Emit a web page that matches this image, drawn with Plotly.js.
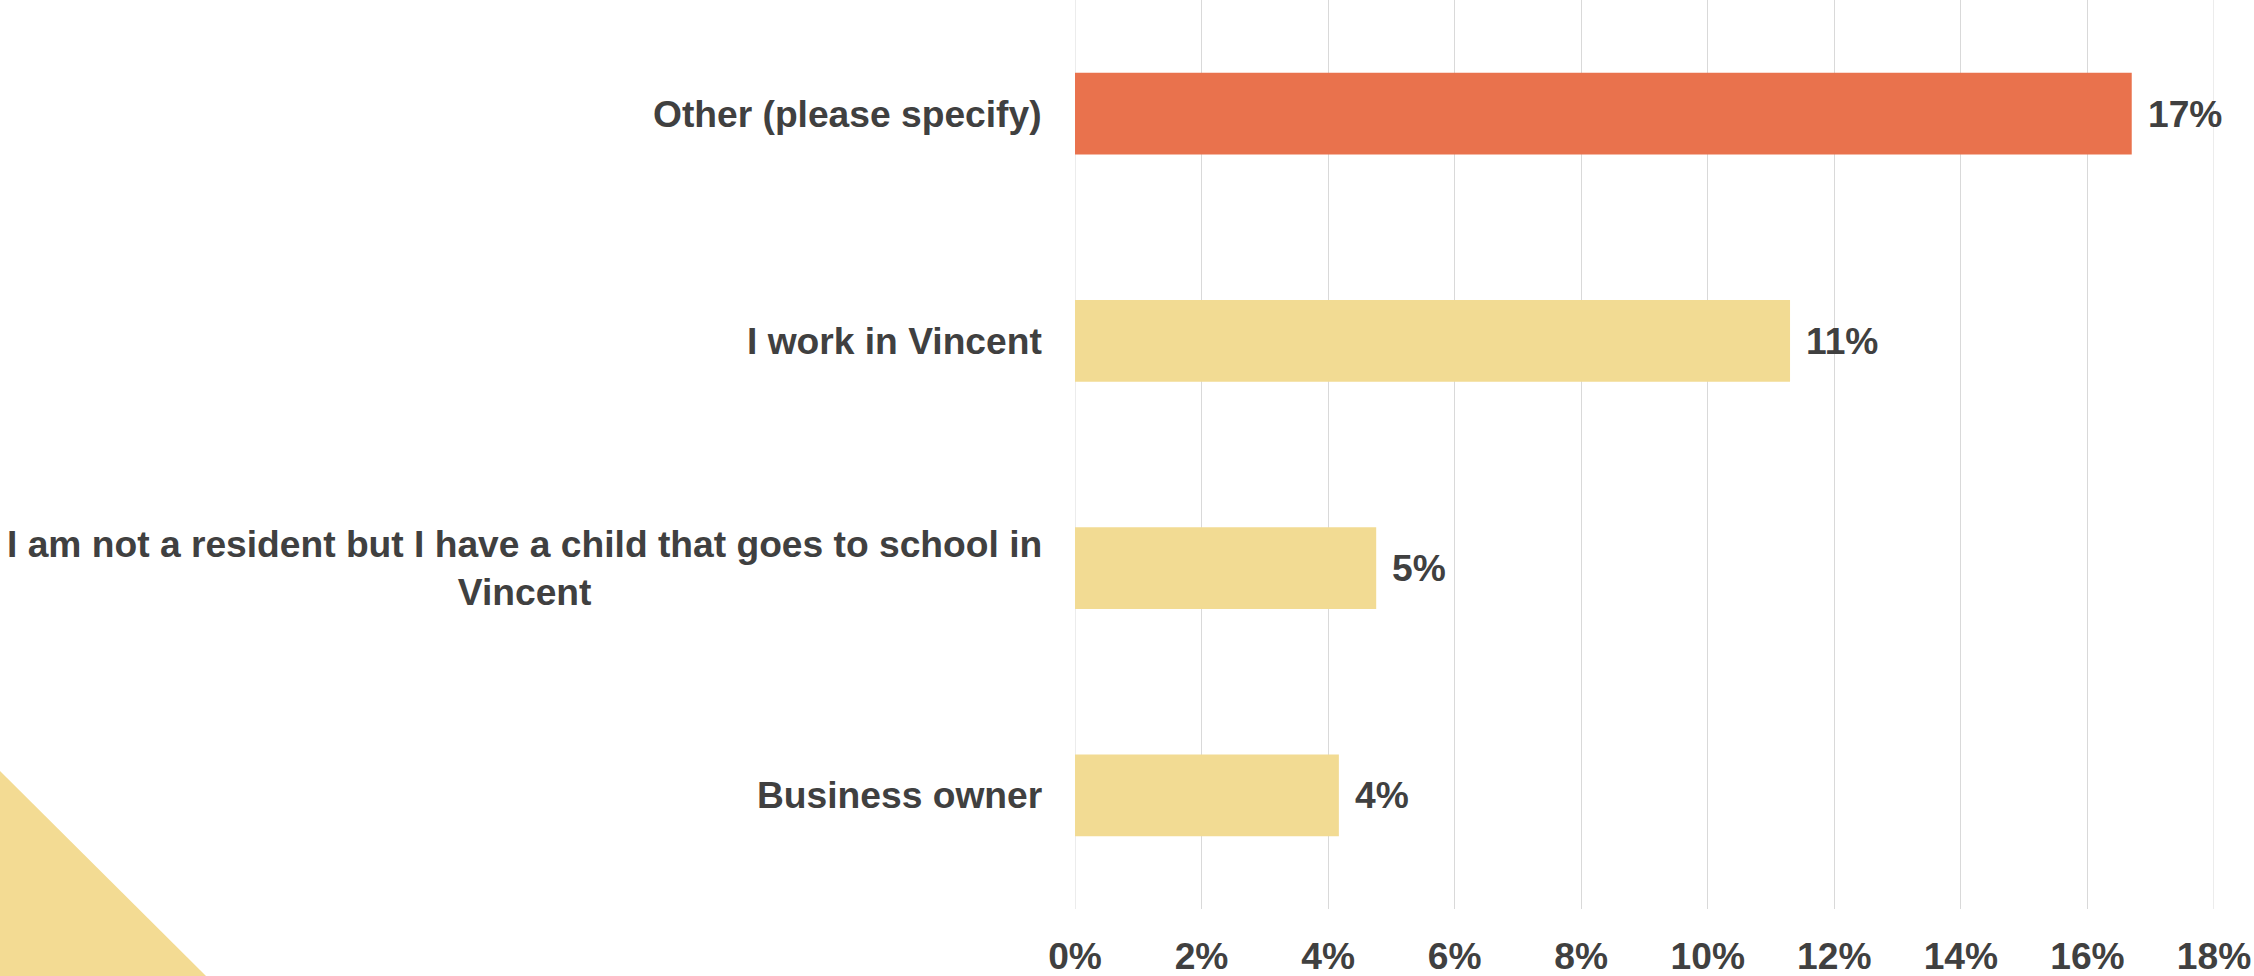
<!DOCTYPE html>
<html>
<head>
<meta charset="utf-8">
<script src="https://cdn.plot.ly/plotly-3.0.1.min.js"></script>
<style>
  html, body { margin: 0; padding: 0; background: #ffffff; }
  #wrap { position: relative; width: 2254px; height: 976px; overflow: hidden; }
  #tri { position: absolute; left: 0; bottom: 0; width: 206px; height: 205px;
         background: #F3DB93; clip-path: polygon(0 0, 0 100%, 100% 100%); }
  #chart { position: absolute; left: 0; top: 0; width: 2254px; height: 976px; }
</style>
</head>
<body>
<div id="wrap">
  <div id="tri"></div>
  <div id="chart"></div>
</div>
<script>
// Categories listed top to bottom
const categories = [
  "Other (please specify)",
  "I work in Vincent",
  "I am not a resident but I have a child that goes to school in<br>Vincent",
  "Business owner"
];
const values = [16.7, 11.3, 4.76, 4.17];   // percent
const barColors = ["#E9724D", "#F2DB93", "#F2DB93", "#F2DB93"];
const tickVals = [0, 2, 4, 6, 8, 10, 12, 14, 16, 18];
const tickText = ["0%", "2%", "4%", "6%", "8%", "10%", "12%", "14%", "16%", "18%"];

const FONT = "Liberation Sans, Arial, sans-serif";
const TXT = "#404040";
const FS = 37.2;

const trace = {
  type: "bar",
  orientation: "h",
  x: values,
  y: categories,
  marker: { color: barColors },
  width: 0.36,
  hoverinfo: "none"
};

const annotations = [];
categories.forEach((c, i) => {
  annotations.push({
    xref: "paper", yref: "y", x: 0, y: c,
    xanchor: "right", yanchor: "middle", xshift: -31,
    text: "<b>" + c + "</b>", showarrow: false, align: "center",
    font: { family: FONT, size: FS, color: TXT }
  });
  annotations.push({
    xref: "x", yref: "y", x: values[i], y: c,
    xanchor: "left", yanchor: "middle", xshift: 14,
    text: "<b>" + Math.round(values[i]) + "%</b>", showarrow: false,
    font: { family: FONT, size: FS, color: TXT }
  });
});

// gridlines at the range edges (Plotly skips them)
const shapes = [tickVals[0], tickVals[tickVals.length - 1]].map(v => ({
  type: "line", xref: "x", yref: "paper", x0: v, x1: v, y0: 0, y1: 1,
  line: { color: "#D9D9D9", width: 1 }, layer: "below"
}));

const layout = {
  width: 2254, height: 976,
  margin: { l: 1075, r: 40, t: 0, b: 67, pad: 0 },
  paper_bgcolor: "rgba(0,0,0,0)",
  plot_bgcolor: "rgba(0,0,0,0)",
  showlegend: false,
  xaxis: {
    range: [0, 18], tickvals: tickVals, ticktext: tickText,
    showgrid: true, gridcolor: "#D9D9D9", gridwidth: 1,
    zeroline: false, showline: false, ticks: "",
    ticklabelstandoff: 22,
    tickfont: { family: FONT, size: FS, color: TXT, weight: "bold" },
    fixedrange: true
  },
  yaxis: {
    type: "category", categoryorder: "array", categoryarray: categories,
    autorange: "reversed", showticklabels: false, showgrid: false,
    zeroline: false, showline: false, ticks: "", fixedrange: true
  },
  shapes: shapes,
  annotations: annotations
};

Plotly.newPlot("chart", [trace], layout, { displayModeBar: false, staticPlot: true });
</script>
</body>
</html>
